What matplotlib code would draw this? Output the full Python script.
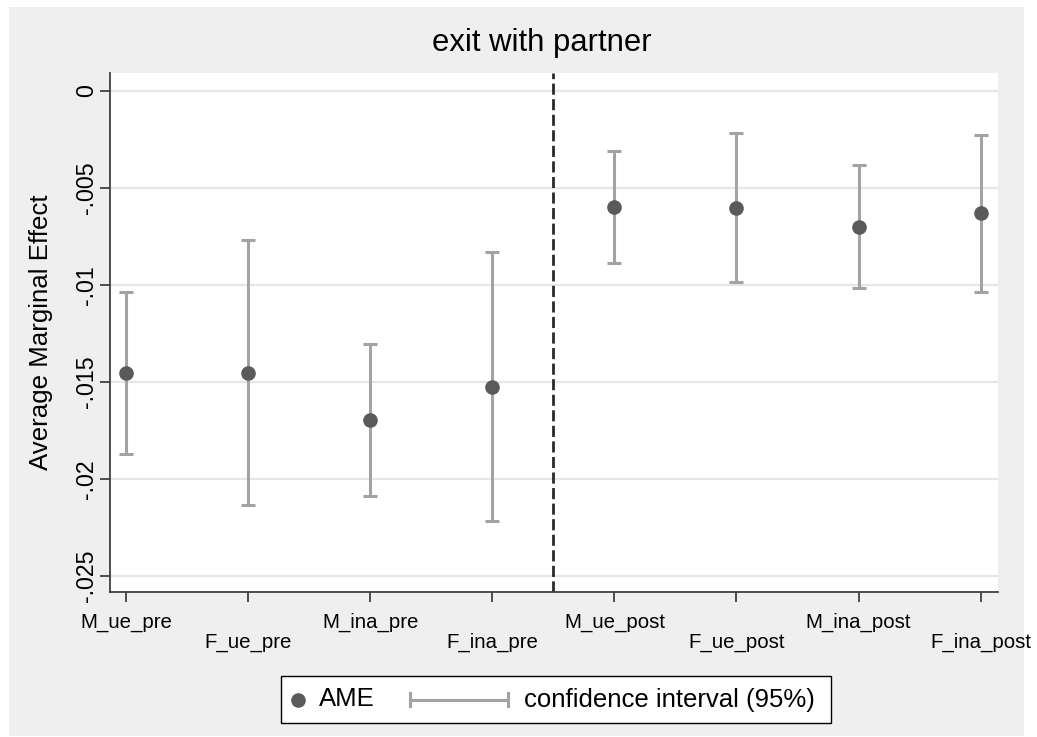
import numpy as np
import matplotlib
matplotlib.use("Agg")
import matplotlib.pyplot as plt
from matplotlib.patches import Rectangle
from matplotlib.lines import Line2D

plt.rcParams['font.family'] = ['Liberation Sans', 'DejaVu Sans']

# values
groups = ["M_ue_pre", "F_ue_pre", "M_ina_pre", "F_ina_pre",
          "M_ue_post", "F_ue_post", "M_ina_post", "F_ina_post"]
ame = [-0.01453, -0.01453, -0.01697, -0.01525, -0.00598, -0.00602, -0.00700, -0.00629]
ci_low = [-0.01871, -0.02137, -0.02091, -0.02218, -0.00887, -0.00983, -0.01016, -0.01035]
ci_high = [-0.01035, -0.00770, -0.01305, -0.00832, -0.00311, -0.00218, -0.00380, -0.00228]
yticks = [0, -0.005, -0.01, -0.015, -0.02, -0.025]
ytick_labels = ["0", "-.005", "-.01", "-.015", "-.02", "-.025"]

W, H = 1037, 737
fig = plt.figure(figsize=(W / 100, H / 100), dpi=100, facecolor="white")
# grey graph region like stata
fig.patches.append(Rectangle((9 / W, 1 - 736 / H), 1015 / W, 729 / H,
                             transform=fig.transFigure, facecolor="#EFEFEF",
                             edgecolor="none", zorder=-10))

ax = fig.add_axes([110 / W, 1 - 592 / H, 888 / W, 519 / H])
ax.set_facecolor("white")

x = np.arange(1, len(groups) + 1)
ame = np.array(ame)
lo = np.array(ci_low)
hi = np.array(ci_high)

ax.errorbar(x, ame, yerr=[ame - lo, hi - ame], fmt="none", ecolor="#A3A3A3",
            elinewidth=2.2, capsize=4.8, capthick=2.2, zorder=3)
ax.plot(x, ame, "o", color="#5A5A5A", markersize=9.5, zorder=4)
ax.axvline(4.5, color="#2A2A2A", lw=2, ls=(0, (4, 1.6)), zorder=2)

ax.set_xlim(0.869, 8.142)
ax.set_ylim(-0.02584, 0.00093)

ax.set_yticks(yticks)
ax.set_yticklabels(ytick_labels, rotation=90, va="center")
ax.yaxis.grid(True, color="#E6E6E6", lw=1.6)
ax.set_axisbelow(True)

# staggered x labels: odd ones as major, even ones as minor with bigger pad
ax.set_xticks(x[0::2])
ax.set_xticklabels(groups[0::2])
ax.set_xticks(x[1::2], minor=True)
ax.set_xticklabels(groups[1::2], minor=True)

ax.tick_params(axis="both", which="both", length=7.2, width=1.3, color="#404040",
               labelsize=14.7, direction="out")
ax.tick_params(axis="x", which="major", pad=8)
ax.tick_params(axis="x", which="minor", pad=8 + 14.4)
ax.tick_params(axis="y", pad=1.5, labelsize=16.7)

for s in ["top", "right"]:
    ax.spines[s].set_visible(False)
for s in ["left", "bottom"]:
    ax.spines[s].set_color("#404040")
    ax.spines[s].set_linewidth(1.3)

fig.text(542 / W, 1 - 43 / H, "exit with partner",
         ha="center", va="center", fontsize=22.3)
fig.text(41 / W, 1 - 332 / H, "Average Marginal Effect", rotation=90,
         ha="center", va="center", fontsize=18.6)

# legend box, drawn by hand to get stata's layout
ly = 1 - 699.5 / H
fig.patches.append(Rectangle((281 / W, 1 - 723 / H), 550 / W, 47 / H,
                             transform=fig.transFigure, facecolor="white",
                             edgecolor="black", lw=1.0))
fig.add_artist(Line2D([298 / W], [ly], marker="o", color="#5A5A5A",
                      markersize=9.5, transform=fig.transFigure))
fig.text(319 / W, ly, "AME", ha="left", va="center", fontsize=18.5)
fig.add_artist(Line2D([410 / W, 508 / W], [ly, ly], color="#A3A3A3", lw=2.2,
                      transform=fig.transFigure))
for cx in (410, 508):
    fig.add_artist(Line2D([cx / W, cx / W], [ly - 6.5 / H, ly + 6.5 / H],
                          color="#A3A3A3", lw=2.2, transform=fig.transFigure))
fig.text(524 / W, ly, "confidence interval (95%)", ha="left", va="center",
         fontsize=18.5)

fig.savefig("out.png", dpi=100, facecolor=fig.get_facecolor())
